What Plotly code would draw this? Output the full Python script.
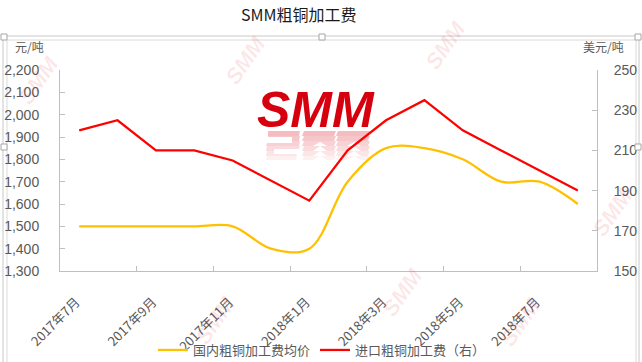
import plotly.graph_objects as go

months = ["2017年7月", "2017年8月", "2017年9月", "2017年10月", "2017年11月", "2017年12月",
          "2018年1月", "2018年2月", "2018年3月", "2018年4月", "2018年5月", "2018年6月",
          "2018年7月", "2018年8月"]
domestic = [1500, 1500, 1500, 1500, 1500, 1400, 1400, 1700, 1850, 1850, 1800, 1700, 1700, 1600]
imported = [220, 225, 210, 210, 205, 195, 185, 210, 225, 235, 220, 210, 200, 190]

left_ticks = list(range(1300, 2201, 100))
right_ticks = list(range(150, 251, 20))

W, H = 642, 362
L, R, T, B = 60, 597, 70, 271

def px(x):
    return (x - L) / (R - L)

def py(y):
    return (B - y) / (B - T)

FONT = "Liberation Sans, Noto Sans CJK SC, sans-serif"
CJK = "Noto Sans CJK SC, sans-serif"
GREY = "#595959"
AXIS = "#BFBFBF"

n = len(months)
label_idx = list(range(0, n, 2))

fig = go.Figure()
fig.add_trace(go.Scatter(x=months, y=domestic, name="国内粗铜加工费均价", mode="lines",
                         line=dict(color="#FFC000", width=2.25, shape="spline", smoothing=1.0),
                         xaxis="x", yaxis="y"))
fig.add_trace(go.Scatter(x=months, y=imported, name="进口粗铜加工费（右）", mode="lines",
                         line=dict(color="#FF0000", width=2.25),
                         xaxis="x", yaxis="y2"))
fig.add_trace(go.Scatter(x=[None], y=[None], xaxis="x2", yaxis="y", showlegend=False,
                         hoverinfo="skip", mode="lines"))

fig.update_layout(
    width=W, height=H,
    margin=dict(l=L, r=W - R, t=T, b=H - B, autoexpand=False),
    paper_bgcolor="white", plot_bgcolor="white",
    font=dict(family=FONT, size=13, color=GREY),
    showlegend=True,
    legend=dict(orientation="h", xref="container", yref="container",
                x=322 / W, y=1 - 335 / H, xanchor="center", yanchor="top",
                font=dict(family=CJK, size=13, color=GREY), itemwidth=30,
                bgcolor="rgba(0,0,0,0)", tracegroupgap=0),
    xaxis=dict(type="category", range=[-0.5, n - 0.5], showline=True,
               linecolor=AXIS, linewidth=1, showticklabels=False,
               ticks="inside", ticklen=5, tickcolor=AXIS, tickson="boundaries",
               dtick=2, showgrid=False, zeroline=False, automargin=False),
    xaxis2=dict(overlaying="x", side="bottom", range=[-0.5, n - 0.5],
                tickvals=[i - 0.08 for i in label_idx], ticktext=[months[i] for i in label_idx],
                tickangle=-45, ticks="", showline=False, showgrid=False, zeroline=False,
                tickfont=dict(family=CJK, size=13, color=GREY), ticklabelstandoff=20,
                automargin=False),
    yaxis=dict(range=[1300, 2200], tickvals=left_ticks, tickformat=",", showline=True,
               linecolor=AXIS, ticks="inside", ticklen=5, tickcolor=AXIS,
               showgrid=False, zeroline=False, ticklabelstandoff=17, automargin=False,
               tickfont=dict(family=FONT, size=14, color=GREY)),
    yaxis2=dict(range=[150, 250], tickvals=right_ticks, overlaying="y", side="right",
                showline=True, linecolor=AXIS, ticks="inside", ticklen=5, tickcolor=AXIS,
                showgrid=False, zeroline=False, ticklabelstandoff=13, automargin=False,
                tickfont=dict(family=FONT, size=14, color=GREY)),
)

ann = []
ann.append(dict(text="SMM粗铜加工费", x=px(299), y=py(14), xref="paper", yref="paper",
                showarrow=False, xanchor="center", yanchor="middle",
                font=dict(family=CJK, size=16, color="#1a1a1a")))
ann.append(dict(text="元/吨", x=px(13), y=py(47), xref="paper", yref="paper",
                showarrow=False, xanchor="left", yanchor="middle",
                font=dict(family=CJK, size=12, color=GREY)))
ann.append(dict(text="美元/吨", x=px(626), y=py(47), xref="paper", yref="paper",
                showarrow=False, xanchor="right", yanchor="middle",
                font=dict(family=CJK, size=12, color=GREY)))
ann.append(dict(text="<b><i>SMM</i></b>", x=px(316), y=py(110), xref="paper", yref="paper",
                showarrow=False, xanchor="center", yanchor="middle",
                font=dict(family="Liberation Sans, sans-serif", size=50, color="#D7000F")))
for (wx, wy) in [(38, 80), (245, 60), (445, 45), (612, 212), (215, 320), (402, 292), (520, 322)]:
    ann.append(dict(text="<b><i>SMM</i></b>", x=px(wx), y=py(wy), xref="paper", yref="paper",
                    showarrow=False, xanchor="center", yanchor="middle", textangle=-55,
                    font=dict(family="Liberation Sans, sans-serif", size=22,
                              color="rgba(230,0,18,0.10)")))
fig.update_layout(annotations=ann)

shapes = []
shapes.append(dict(type="rect", xref="paper", yref="paper", x0=px(3), x1=px(639), y0=py(366), y1=py(36),
                   line=dict(color="#C8C8C8", width=1), fillcolor="rgba(0,0,0,0)", layer="below"))
shapes.append(dict(type="rect", xref="paper", yref="paper", x0=px(7), x1=px(636), y0=py(366), y1=py(40),
                   line=dict(color="#DADADA", width=1), fillcolor="rgba(0,0,0,0)", layer="below"))
for (hx, hy) in [(4, 37), (322, 37), (638, 37), (4, 147), (638, 147)]:
    shapes.append(dict(type="rect", xref="paper", yref="paper", x0=px(hx - 3), x1=px(hx + 3),
                       y0=py(hy + 3), y1=py(hy - 3), line=dict(color="#A6A6A6", width=1),
                       fillcolor="white", layer="above"))

def poly(points):
    return "M " + " L ".join(f"{px(a):.4f},{py(b):.4f}" for a, b in points) + " Z"

letters = [
    [(268, 131), (300, 131), (299, 149), (274, 149), (274, 154), (297, 154), (296, 160), (266, 160),
     (267, 143), (292, 143), (292, 137), (268, 137)],
    [(304, 131), (336, 131), (334, 160), (327, 160), (320, 142), (313, 160), (302, 160)],
    [(338, 131), (370, 131), (368, 160), (361, 160), (354, 142), (347, 160), (336, 160)],
]
bands = [(131 + 5 * k, 136 + 5 * k, 0.26 - 0.04 * k) for k in range(6)]
for y0, y1, op in bands:
    for pts in letters:
        clipped = [(a, min(max(b, y0), y1)) for a, b in pts]
        shapes.append(dict(type="path", xref="paper", yref="paper", path=poly(clipped),
                           fillcolor=f"rgba(215,0,15,{op:.2f})", line=dict(width=0), layer="below"))
fig.update_layout(shapes=shapes)

fig.write_html("out.html")
